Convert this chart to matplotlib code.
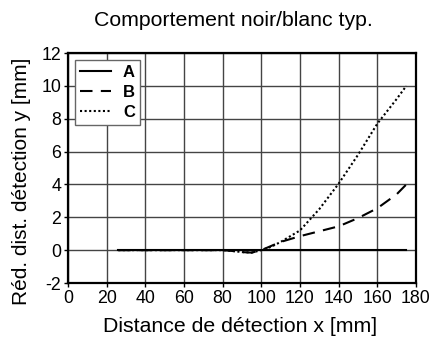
import matplotlib
matplotlib.use("Agg")
import matplotlib.pyplot as plt

plt.rcParams['font.family'] = ['Liberation Sans', 'DejaVu Sans']
plt.rcParams['axes.unicode_minus'] = False

x = [26, 40, 60, 80, 85, 90, 95, 100, 105, 110, 120, 130, 140, 150, 160, 170, 175]
A = [0]*len(x)
B = [0, 0, 0, 0, -0.05, -0.12, -0.15, 0, 0.25, 0.5, 0.85, 1.15, 1.45, 1.95, 2.55, 3.4, 4.0]
C = [0, 0, 0, 0, -0.05, -0.12, -0.15, 0, 0.2, 0.5, 1.2, 2.5, 4.05, 5.8, 7.7, 9.2, 10.0]

xticks = list(range(0, 181, 20))
yticks = list(range(-2, 13, 2))

W, H = 445, 341
fig = plt.figure(figsize=(W/100, H/100), dpi=100)
ax = fig.add_axes([68/W, 1-283/H, (416-68)/W, (283-53)/H])

ax.plot(x, A, color='black', lw=1.5, label='A')
ax.plot(x, B, color='black', lw=1.5, ls=(0, (6, 4)), label='B')
ax.plot(x, C, color='black', lw=1.5, ls=(0, (1, 1.2)), label='C')

ax.set_xlim(0, 180)
ax.set_ylim(-2, 12)
ax.set_xticks(xticks)
ax.set_yticks(yticks)
ax.grid(True, color='#444444', lw=1)
ax.set_axisbelow(True)
for s in ax.spines.values():
    s.set_linewidth(1.6)
ax.tick_params(labelsize=12.8, length=3, width=1, pad=2)

fig.text(233/W, 1-20/H, 'Comportement noir/blanc typ.', fontsize=15.3, ha='center', va='center')
fig.text(240/W, 1-326/H, 'Distance de détection x [mm]', fontsize=15.3, ha='center', va='center')
fig.text(22/W, 1-181/H, 'Réd. dist. détection y [mm]', fontsize=15, ha='center', va='center', rotation=90)

leg = ax.legend(loc='upper left', fancybox=False, framealpha=1, edgecolor='#666666',
                prop={'weight': 'bold', 'size': 12}, handlelength=1.9,
                borderaxespad=0.4, labelspacing=0.3, handletextpad=0.7,
                borderpad=0.3)
leg.get_frame().set_linewidth(1)

fig.savefig('out.png', dpi=100)
